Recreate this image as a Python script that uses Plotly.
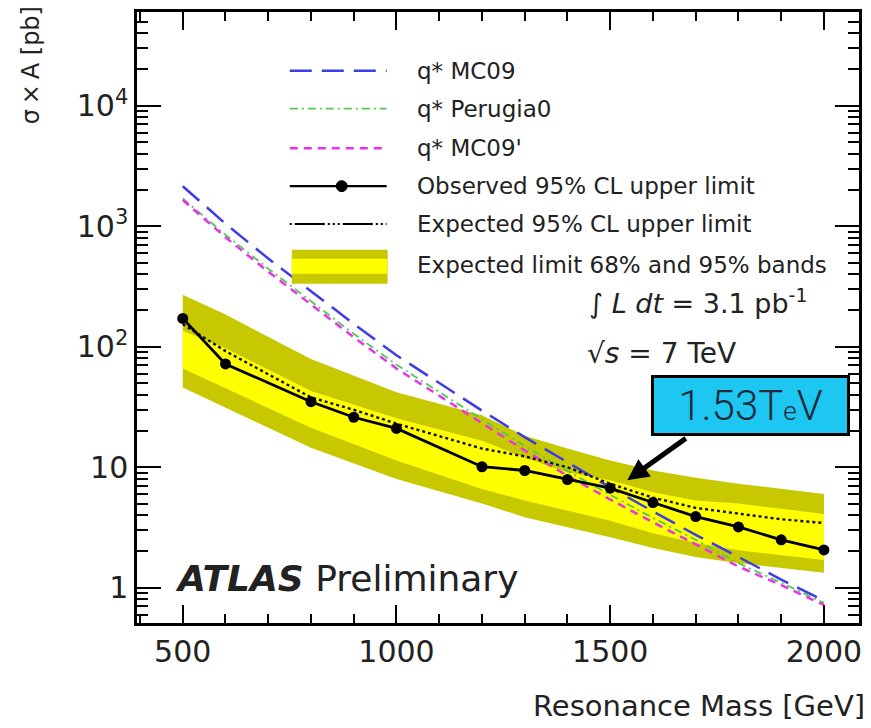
import plotly.graph_objects as go
import numpy as np

# ---- data -------------------------------------------------------------
mass_obs = [500, 600, 800, 900, 1000, 1200, 1300, 1400, 1500, 1600, 1700, 1800, 1900, 2000]
observed = [172, 72, 35, 26, 21, 10.1, 9.4, 7.9, 6.7, 5.1, 3.9, 3.2, 2.5, 2.06]
expected = [154, 92, 38, 30, 23, 14.3, 12.3, 10.0, 7.3, 5.6, 4.6, 4.15, 3.7, 3.45]

mass_band = [500, 600, 800, 1000, 1200, 1300, 1400, 1500, 1600, 1700, 1800, 2000]
band95_hi = [270, 185, 79, 42, 27, 18.3, 14.3, 11.4, 9.4, 8.2, 7.3, 6.0]
band68_hi = [136, 97, 43, 25.5, 16.6, 12.0, 9.1, 7.8, 6.2, 5.3, 5.0, 4.1]
band68_lo = [66, 45, 21.3, 11.4, 6.6, 5.3, 4.4, 3.6, 2.84, 2.35, 2.05, 1.7]
band95_lo = [46, 31, 14.5, 8.0, 5.0, 3.85, 3.2, 2.63, 2.14, 1.8, 1.6, 1.33]

mass_th = [500, 600, 700, 800, 900, 1000, 1100, 1200, 1300, 1400, 1500, 1600, 1700, 1800, 1900, 2000]
qstar_mc09 = [2150, 1050, 540, 290, 155, 85, 50, 29.5, 17.8, 11.0, 6.8, 4.3, 2.75, 1.8, 1.17, 0.78]
qstar_perugia0 = [1700, 850, 445, 240, 128, 71, 42, 25, 15, 9.3, 5.9, 3.8, 2.5, 1.6, 1.1, 0.75]
qstar_mc09p = [1650, 810, 420, 225, 120, 66, 39, 23, 13.8, 8.5, 5.4, 3.5, 2.3, 1.5, 1.05, 0.72]

legend_labels = ["q* MC09", "q* Perugia0", "q* MC09'",
                 "Observed 95% CL upper limit", "Expected 95% CL upper limit",
                 "Expected limit 68% and 95% bands"]

y_tickvals = [1, 10, 100, 1000, 10000]
y_ticktext = ["1", "10", "10<sup>2</sup>", "10<sup>3</sup>", "10<sup>4</sup>"]
y_minor = [m * 10 ** e for e in range(-1, 5) for m in range(2, 10)]
y_minor = [v for v in y_minor if 0.5 <= v <= 6e4 and v not in y_tickvals]

# ---- styling ------------------------------------------------------------
W, H = 871, 728
ML, MR, MT, MB = 137, 11, 9, 105
PW, PH = W - ML - MR, H - MT - MB
OLIVE = "#c8c800"
YELLOW = "#ffff00"
TXT = "#222222"
FONT = "DejaVu Sans"

STYLE_MC09 = dict(color="#3c3ce8", width=2.5, dash="22px,10px")
STYLE_PERUGIA = dict(color="#55c855", width=1.8, dash="8px,4px,2px,4px")
STYLE_MC09P = dict(color="#e833e8", width=2.5, dash="8px,6px")


def px(xp):
    return (xp - ML) / PW


def py(yp):
    return (H - MB - yp) / PH


fig = go.Figure()

# expected-limit bands (95% outer, 68% inner)
fig.add_trace(go.Scatter(x=mass_band + mass_band[::-1], y=band95_hi + band95_lo[::-1],
                         fill="toself", fillcolor=OLIVE, line=dict(width=0),
                         mode="lines", hoverinfo="skip", showlegend=False))
fig.add_trace(go.Scatter(x=mass_band + mass_band[::-1], y=band68_hi + band68_lo[::-1],
                         fill="toself", fillcolor=YELLOW, line=dict(width=0),
                         mode="lines", hoverinfo="skip", showlegend=False))

# theory predictions
fig.add_trace(go.Scatter(x=mass_th, y=qstar_mc09, mode="lines", showlegend=False,
                         line=STYLE_MC09))
fig.add_trace(go.Scatter(x=mass_th, y=qstar_perugia0, mode="lines", showlegend=False,
                         line=STYLE_PERUGIA))
fig.add_trace(go.Scatter(x=mass_th, y=qstar_mc09p, mode="lines", showlegend=False,
                         line=STYLE_MC09P))

# expected and observed limits
fig.add_trace(go.Scatter(x=mass_obs, y=expected, mode="lines", showlegend=False,
                         line=dict(color="#111111", width=2.4, dash="dot")))
fig.add_trace(go.Scatter(x=mass_obs, y=observed, mode="lines+markers", showlegend=False,
                         line=dict(color="black", width=2.8),
                         marker=dict(color="black", size=11, symbol="circle")))

# ---- hand-drawn legend ---------------------------------------------------
shapes = []
rows_y = [68, 106, 146, 184, 222]
line_specs = [
    STYLE_MC09, STYLE_PERUGIA, STYLE_MC09P,
    dict(color="black", width=2.4, dash="solid"),
    dict(color="black", width=2, dash="2px,3px,30px,3px,2px,3px,2px,3px"),
]
for yp, spec in zip(rows_y, line_specs):
    shapes.append(dict(type="line", xref="paper", yref="paper",
                       x0=px(290), x1=px(387), y0=py(yp), y1=py(yp), line=spec))
shapes.append(dict(type="circle", xref="paper", yref="paper",
                   xsizemode="pixel", ysizemode="pixel",
                   xanchor=px(342), yanchor=py(184), x0=-5.5, x1=5.5, y0=-5.5, y1=5.5,
                   fillcolor="black", line=dict(color="black", width=1)))
shapes.append(dict(type="rect", xref="paper", yref="paper",
                   x0=px(292), x1=px(388), y0=py(282), y1=py(248),
                   fillcolor=OLIVE, line=dict(width=0)))
shapes.append(dict(type="rect", xref="paper", yref="paper",
                   x0=px(292), x1=px(388), y0=py(272), y1=py(257),
                   fillcolor=YELLOW, line=dict(width=0)))

annotations = []
for yp, lab in zip(rows_y + [263], legend_labels):
    annotations.append(dict(text=lab, xref="paper", yref="paper", x=px(415), y=py(yp),
                            xanchor="left", yanchor="middle", showarrow=False,
                            font=dict(family=FONT, size=23, color=TXT)))

# luminosity and energy
annotations.append(dict(text="∫ <i>L dt</i> = 3.1 pb<sup>-1</sup>", xref="paper", yref="paper",
                        x=px(588), y=py(300), xanchor="left", yanchor="middle",
                        showarrow=False, font=dict(family=FONT, size=27, color=TXT)))
annotations.append(dict(text="√<i>s</i> = 7 TeV", xref="paper", yref="paper",
                        x=px(586), y=py(352), xanchor="left", yanchor="middle",
                        showarrow=False, font=dict(family=FONT, size=28, color=TXT)))

# experiment label
annotations.append(dict(text="<b><i>ATLAS</i></b> Preliminary", xref="paper", yref="paper",
                        x=px(173), y=py(578), xanchor="left", yanchor="middle",
                        showarrow=False, font=dict(family=FONT, size=36, color=TXT)))

# mass limit callout and arrow
annotations.append(dict(text="1.53T<span style='font-size:26px'>e</span>V",
                        xref="paper", yref="paper", x=px(751), y=py(404),
                        xanchor="center", yanchor="middle", showarrow=False,
                        width=193, height=55, borderpad=0, borderwidth=3,
                        bordercolor="black", bgcolor="#1ec6f2",
                        font=dict(family="Roboto", size=42, color="#1e2a38", weight=300)))
annotations.append(dict(text="", x=1540, y=np.log10(7.8), xref="x", yref="y",
                        ax=60, ay=-43, showarrow=True, arrowhead=2, arrowsize=0.85,
                        arrowwidth=5, arrowcolor="black"))

# axis titles
annotations.append(dict(text="σ\u2009×\u2009A [pb]", xref="paper", yref="paper",
                        x=px(31), y=py(1), xanchor="center", yanchor="top",
                        textangle=-90, showarrow=False,
                        font=dict(family=FONT, size=24, color=TXT)))
annotations.append(dict(text="Resonance Mass [GeV]", xref="paper", yref="paper",
                        x=px(868), y=py(706), xanchor="right", yanchor="middle",
                        showarrow=False, font=dict(family=FONT, size=29, color=TXT)))

fig.update_layout(
    width=W, height=H,
    margin=dict(l=ML, r=MR, t=MT, b=MB),
    paper_bgcolor="white", plot_bgcolor="white",
    showlegend=False,
    shapes=shapes, annotations=annotations,
    xaxis=dict(range=[393, 2082], showline=True, linecolor="black", linewidth=2.5,
               mirror="ticks", ticks="inside", ticklen=18, tickwidth=2, tickcolor="black",
               tick0=500, dtick=500, showgrid=False, zeroline=False,
               tickfont=dict(family=FONT, size=30, color=TXT),
               minor=dict(ticks="inside", dtick=100, tick0=500, ticklen=9,
                          tickwidth=2, tickcolor="black", showgrid=False)),
    yaxis=dict(type="log", range=[np.log10(0.51), np.log10(6e4)], showline=True,
               linecolor="black", linewidth=2.5, mirror="ticks", ticks="inside",
               ticklen=24, tickwidth=2, tickcolor="black", showgrid=False, zeroline=False,
               tickmode="array", tickvals=y_tickvals, ticktext=y_ticktext,
               tickfont=dict(family=FONT, size=30, color=TXT),
               minor=dict(ticks="inside", tickmode="array", tickvals=y_minor, ticklen=11,
                          tickwidth=2, tickcolor="black", showgrid=False)),
)

fig.write_html("out.html")
